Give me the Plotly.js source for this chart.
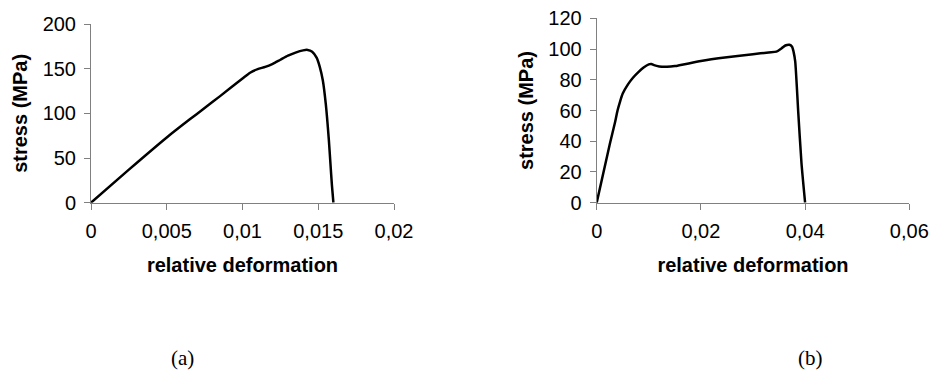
<!DOCTYPE html>
<html>
<head>
<meta charset="utf-8">
<script src="https://cdn.plot.ly/plotly-3.0.1.min.js"></script>
<style>
html, body { margin: 0; padding: 0; background: #fff; }
#chart { width: 931px; height: 371px; }
</style>
</head>
<body>
<div id="chart"></div>
<script>
// Chart (a)
const strainA = [0, 0.0025, 0.005, 0.0065, 0.0075, 0.0085, 0.01, 0.0105, 0.011, 0.0115, 0.012, 0.0125, 0.013, 0.0135, 0.014, 0.0143, 0.0146, 0.0149, 0.0151, 0.0153, 0.0155, 0.0157, 0.0158, 0.0159, 0.016];
const stressA = [0, 37, 73, 93, 106, 119, 139, 145.5, 149.5, 152, 155.5, 160, 164.5, 168, 170.5, 171, 169, 162, 152, 137, 110, 70, 45, 20, 0];
const xTickValsA = [0, 0.005, 0.01, 0.015, 0.02];
const xTickTextA = ["0", "0,005", "0,01", "0,015", "0,02"];
const yTickValsA = [0, 50, 100, 150, 200];
const yTickTextA = ["0", "50", "100", "150", "200"];

// Chart (b)
const strainB = [0, 0.00255, 0.0035, 0.004, 0.0045, 0.005, 0.006, 0.007, 0.008, 0.009, 0.01, 0.0105, 0.011, 0.012, 0.0135, 0.015, 0.02, 0.025, 0.03, 0.033, 0.0345, 0.0355, 0.0362, 0.037, 0.0375, 0.0378, 0.0381, 0.0387, 0.0393, 0.04];
const stressB = [0, 38.7, 52, 60, 66, 71, 77, 81.5, 85, 88, 90, 90.2, 89.5, 88.7, 88.5, 88.9, 92.2, 94.6, 96.6, 97.8, 98.3, 100.5, 102.3, 102.8, 101.5, 98, 92, 58, 26, 0];
const xTickValsB = [0, 0.02, 0.04, 0.06];
const xTickTextB = ["0", "0,02", "0,04", "0,06"];
const yTickValsB = [0, 20, 40, 60, 80, 100, 120];
const yTickTextB = ["0", "20", "40", "60", "80", "100", "120"];

const xTitle = "relative deformation";
const yTitle = "stress (MPa)";
const panelLabels = ["(a)", "(b)"];

const W = 931, H = 371;
const tickFont = { family: "Liberation Sans, Arial, sans-serif", size: 20, color: "#000" };
const titleFont = { family: "Liberation Sans, Arial, sans-serif", size: 20, color: "#000", weight: "bold" };
const axisColor = "#808080";

function xAxis(domainPx, range, vals, text) {
  return {
    domain: [domainPx[0] / W, domainPx[1] / W],
    range: range, fixedrange: true,
    showgrid: false, zeroline: false,
    showline: true, linecolor: axisColor, linewidth: 1,
    ticks: "outside", ticklen: 6, tickcolor: axisColor, tickwidth: 1,
    tickvals: vals, ticktext: text, tickfont: tickFont,
    ticklabelstandoff: 4,
    title: { text: "<b>" + xTitle + "</b>", font: titleFont, standoff: 17 }
  };
}
function yAxis(domainPx, range, vals, text, anchor) {
  return {
    domain: [(H - domainPx[1]) / H, (H - domainPx[0]) / H],
    range: range, fixedrange: true, anchor: anchor,
    showgrid: false, zeroline: false,
    showline: true, linecolor: axisColor, linewidth: 1,
    ticks: "outside", ticklen: 6, tickcolor: axisColor, tickwidth: 1,
    tickvals: vals, ticktext: text, tickfont: tickFont,
    ticklabelstandoff: 4,
    title: { text: "<b>" + yTitle + "</b>", font: titleFont, standoff: 9 }
  };
}

const traces = [
  { x: strainA, y: stressA, xaxis: "x", yaxis: "y", type: "scatter", mode: "lines",
    line: { color: "#000", width: 2.5, shape: "spline", smoothing: 0.6 }, hoverinfo: "skip" },
  { x: strainB, y: stressB, xaxis: "x2", yaxis: "y2", type: "scatter", mode: "lines",
    line: { color: "#000", width: 2.5, shape: "spline", smoothing: 0.6 }, hoverinfo: "skip" }
];

const layout = {
  width: W, height: H,
  margin: { l: 0, r: 0, t: 0, b: 0 },
  paper_bgcolor: "#fff", plot_bgcolor: "#fff",
  showlegend: false,
  xaxis: xAxis([91, 394], [0, 0.02], xTickValsA, xTickTextA),
  yaxis: yAxis([24, 202.7], [0, 200], yTickValsA, yTickTextA, "x"),
  xaxis2: Object.assign(xAxis([596.7, 909.3], [0, 0.06], xTickValsB, xTickTextB), { anchor: "y2" }),
  yaxis2: yAxis([18.3, 202.7], [0, 120], yTickValsB, yTickTextB, "x2"),
  annotations: [
    { text: panelLabels[0], xref: "paper", yref: "paper", x: 182 / W, y: (H - 358) / H,
      xanchor: "center", yanchor: "middle", showarrow: false,
      font: { family: "Liberation Serif, Times New Roman, serif", size: 21, color: "#000" } },
    { text: panelLabels[1], xref: "paper", yref: "paper", x: 810 / W, y: (H - 358) / H,
      xanchor: "center", yanchor: "middle", showarrow: false,
      font: { family: "Liberation Serif, Times New Roman, serif", size: 21, color: "#000" } }
  ]
};
layout.xaxis.anchor = "y";

Plotly.newPlot("chart", traces, layout, { displayModeBar: false, staticPlot: true });
</script>
</body>
</html>
